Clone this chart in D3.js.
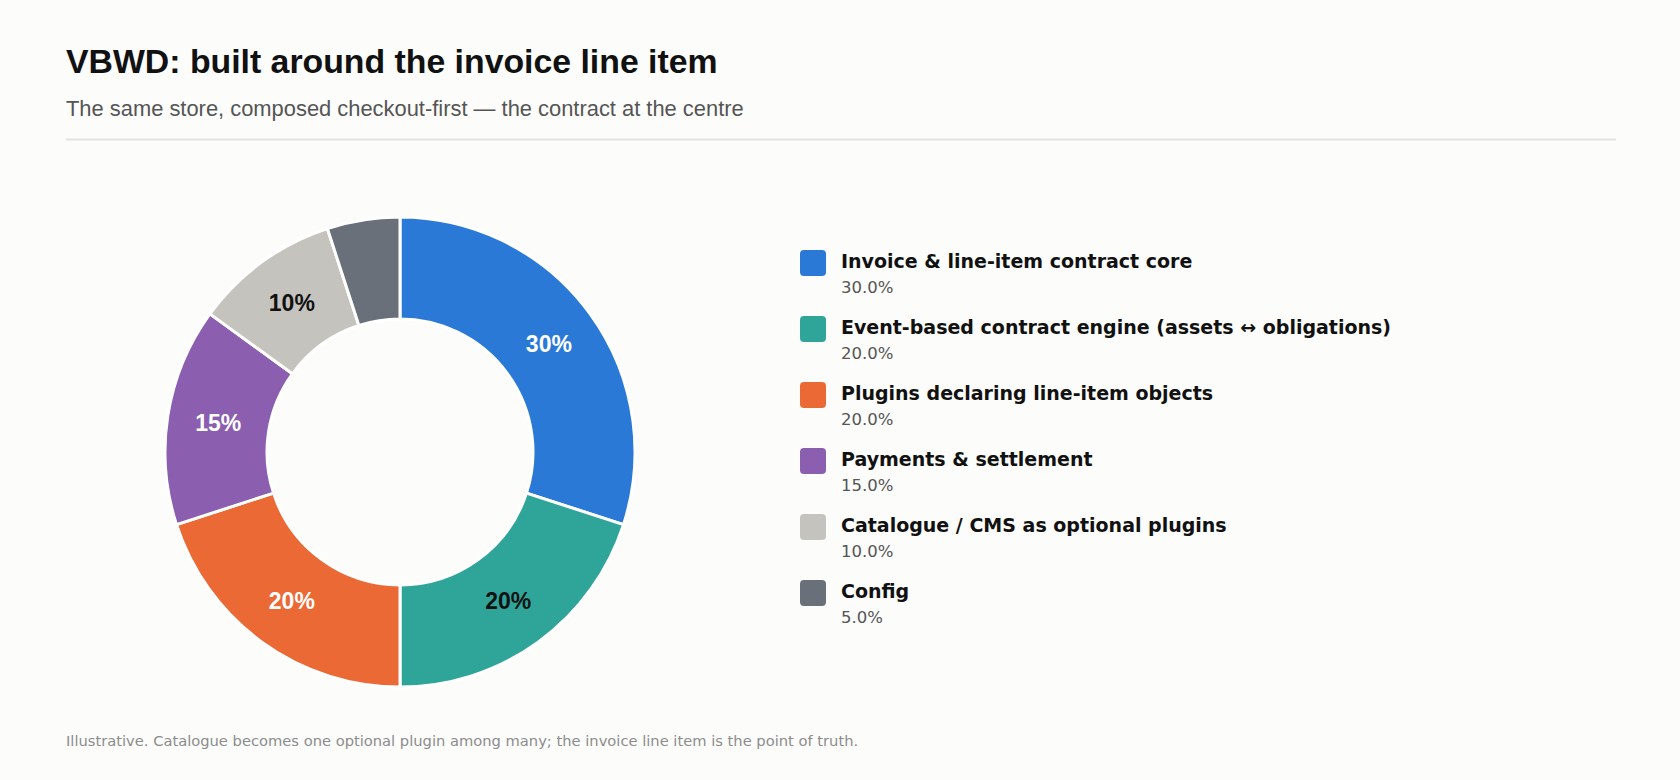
<!DOCTYPE html>
<html>
<head>
<meta charset="utf-8">
<script src="https://cdn.jsdelivr.net/npm/d3@7"></script>
<style>
  html, body { margin: 0; padding: 0; background: #fcfcfb; }
  svg { display: block; }
</style>
</head>
<body>
<svg id="chart" width="1680" height="780"></svg>
<script>
// ---- data ----
const categories = [
  "Invoice & line-item contract core",
  "Event-based contract engine (assets \u2194 obligations)",
  "Plugins declaring line-item objects",
  "Payments & settlement",
  "Catalogue / CMS as optional plugins",
  "Config"
];
const values = [30, 20, 20, 15, 10, 5];
const palette = ["#2b79d7", "#2fa59a", "#eb6935", "#8b5eb0", "#c4c3bd", "#6a707a"];
const labelInk = ["#ffffff", "#111111", "#ffffff", "#ffffff", "#111111", "#ffffff"];
const title = "VBWD: built around the invoice line item";
const subtitle = "The same store, composed checkout-first \u2014 the contract at the centre";
const footnote = "Illustrative. Catalogue becomes one optional plugin among many; the invoice line item is the point of truth.";

// ---- layout ----
const W = 1680, H = 780;
const svg = d3.select("#chart");
const sans = "'Liberation Sans', Arial, Helvetica, sans-serif";
const wide = "'DejaVu Sans', Verdana, sans-serif";

svg.append("rect").attr("width", W).attr("height", H).attr("fill", "#fcfcfb");

svg.append("text").attr("x", 66).attr("y", 73)
  .attr("font-family", sans).attr("font-size", 33.8).attr("font-weight", 700)
  .attr("fill", "#111").text(title);

svg.append("text").attr("x", 66).attr("y", 116)
  .attr("font-family", sans).attr("font-size", 21.9)
  .attr("fill", "#555").text(subtitle);

svg.append("line").attr("x1", 66).attr("x2", 1616).attr("y1", 139.5).attr("y2", 139.5)
  .attr("stroke", "#e2e2e0").attr("stroke-width", 2);

svg.append("text").attr("x", 66).attr("y", 746)
  .attr("font-family", wide).attr("font-size", 14.7)
  .attr("fill", "#8c8c8c").text(footnote);

// ---- donut ----
const cx = 400, cy = 452, rOuter = 235, rInner = 133;
const color = d3.scaleOrdinal().domain(categories).range(palette);
const ink = d3.scaleOrdinal().domain(categories).range(labelInk);
const total = d3.sum(values);
const rows = categories.map((c, i) => ({ cat: c, value: values[i] }));

const pie = d3.pie().value(d => d.value).sort(null);
const arc = d3.arc().innerRadius(rInner).outerRadius(rOuter);
const arcs = pie(rows);

const g = svg.append("g").attr("transform", `translate(${cx},${cy})`);
g.selectAll("path.slice").data(arcs).join("path")
  .attr("class", "slice")
  .attr("d", arc)
  .attr("fill", d => color(d.data.cat))
  .attr("stroke", "#ffffff")
  .attr("stroke-width", 3)
  .attr("stroke-linejoin", "round");

g.selectAll("text.pct").data(arcs.filter(d => d.data.value / total >= 0.08)).join("text")
  .attr("class", "pct")
  .attr("transform", d => `translate(${arc.centroid(d)})`)
  .attr("text-anchor", "middle")
  .attr("dy", "0.36em")
  .attr("font-family", sans).attr("font-size", 23).attr("font-weight", 700)
  .attr("fill", d => ink(d.data.cat))
  .text(d => d3.format(".0%")(d.data.value / total));

// ---- legend ----
const legendY = d3.scalePoint().domain(categories).range([250, 580]);
const lg = svg.append("g");
const item = lg.selectAll("g.item").data(rows).join("g")
  .attr("class", "item")
  .attr("transform", d => `translate(800,${legendY(d.cat)})`);

item.append("rect").attr("width", 26).attr("height", 26).attr("rx", 4)
  .attr("fill", d => color(d.cat));

item.append("text").attr("x", 41).attr("y", 18)
  .attr("font-family", wide).attr("font-size", 19).attr("font-weight", 700)
  .attr("fill", "#111").text(d => d.cat);

item.append("text").attr("x", 41).attr("y", 43)
  .attr("font-family", wide).attr("font-size", 16.5)
  .attr("fill", "#555").text(d => d3.format(".1%")(d.value / total));
</script>
</body>
</html>
